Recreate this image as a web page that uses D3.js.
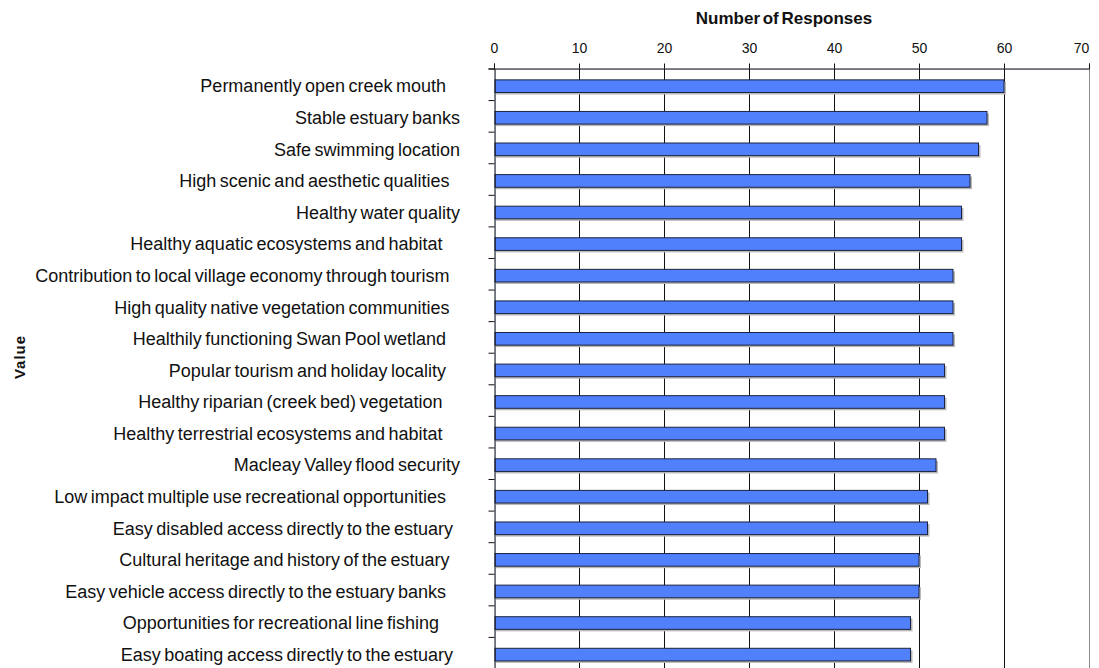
<!DOCTYPE html>
<html>
<head>
<meta charset="utf-8">
<script src="https://cdn.jsdelivr.net/npm/d3@7"></script>
<style>
  body { margin: 0; background: #fff; }
  text { font-family: "Liberation Sans", Arial, sans-serif; }
</style>
</head>
<body>
<div id="container"></div>
<script>
var width = 1099,
    height = 668;

// data, top to bottom (labels keep the trailing blanks of the source sheet)
var categories = [
    'Permanently open creek mouth    ',
    'Stable estuary banks',
    'Safe swimming location',
    'High scenic and aesthetic qualities   ',
    'Healthy water quality',
    'Healthy aquatic ecosystems and habitat     ',
    'Contribution to local village economy through tourism   ',
    'High quality native vegetation communities   ',
    'Healthily functioning Swan Pool wetland    ',
    'Popular tourism and holiday locality    ',
    'Healthy riparian (creek bed) vegetation     ',
    'Healthy terrestrial ecosystems and habitat     ',
    'Macleay Valley flood security',
    'Low impact multiple use recreational opportunities    ',
    'Easy disabled access directly to the estuary  ',
    'Cultural heritage and history of the estuary   ',
    'Easy vehicle access directly to the estuary banks    ',
    'Opportunities for recreational line fishing      ',
    'Easy boating access directly to the estuary  '
];
var responses = [60, 58, 57, 56, 55, 55, 54, 54, 54, 53, 53, 53, 52, 51, 51, 50, 50, 49, 49];
var xTicks = [0, 10, 20, 30, 40, 50, 60, 70];

var svg = d3.select('#container')
    .append('svg')
    .attr('width', width)
    .attr('height', height);

var scaleX = d3.scaleLinear()
    .domain([0, 70])
    .range([494, 1089]);
var scaleY = d3.scaleBand()
    .domain(d3.range(categories.length))
    .range([68.5, 668.5])
    .paddingInner(0.6)
    .paddingOuter(0.3)
    .align(0.6);
// boundaries between categories, for the left tick marks
var scaleEdge = d3.scaleLinear()
    .domain([0, categories.length])
    .range([68.5, 668.5]);

// plot area border (light blue)
svg.append('line')
    .attr('x1', 495.5).attr('x2', 1089)
    .attr('y1', 69.5).attr('y2', 69.5)
    .attr('stroke', '#c8d4f4');
svg.append('line')
    .attr('x1', 495.5).attr('x2', 495.5)
    .attr('y1', 69.5).attr('y2', height)
    .attr('stroke', '#c8d4f4');

// grid
svg.append('g')
    .selectAll('line')
    .data(xTicks.slice(1))
    .join('line')
    .attr('x1', function(d) { return Math.round(scaleX(d)) + 0.5; })
    .attr('x2', function(d) { return Math.round(scaleX(d)) + 0.5; })
    .attr('y1', 68.5)
    .attr('y2', height)
    .attr('stroke', function(d) { return d === 70 ? '#888' : '#111'; })
    .attr('stroke-width', 1);

// bars
var bars = svg.append('g');
bars.selectAll('rect.shadow')
    .data(responses)
    .join('rect')
    .attr('class', 'shadow')
    .attr('x', scaleX(0) + 2)
    .attr('y', function(d, i) { return scaleY(i) + 2; })
    .attr('width', function(d) { return scaleX(d) - scaleX(0); })
    .attr('height', scaleY.bandwidth())
    .attr('fill', '#b8b8b8');
bars.selectAll('rect.bar')
    .data(responses)
    .join('rect')
    .attr('class', 'bar')
    .attr('x', scaleX(0) + 1)
    .attr('y', function(d, i) { return scaleY(i); })
    .attr('width', function(d) { return scaleX(d) - scaleX(0) - 1; })
    .attr('height', scaleY.bandwidth())
    .attr('fill', '#5080fc')
    .attr('stroke', '#1c2340')
    .attr('stroke-width', 1);

// top axis
var xAxis = d3.axisTop(scaleX)
    .tickValues(xTicks)
    .tickSize(5)
    .tickPadding(11);
var gx = svg.append('g')
    .attr('transform', 'translate(0,68.5)')
    .call(xAxis);
gx.select('.domain').attr('stroke', '#111');
gx.selectAll('.tick line').attr('stroke', '#111');
gx.selectAll('.tick text')
    .attr('font-size', 14)
    .attr('fill', '#111')
    .attr('font-family', '"Liberation Sans", Arial, sans-serif');
gx.selectAll('.tick')
    .filter(function(d) { return d === 70; })
    .select('text')
    .attr('dx', -8);

// left axis (ticks between categories)
var yAxis = d3.axisLeft(scaleEdge)
    .tickValues(d3.range(categories.length + 1))
    .tickSize(6)
    .tickFormat('');
var gy = svg.append('g')
    .attr('transform', 'translate(494.5,0)')
    .call(yAxis);
gy.select('.domain').attr('stroke', '#111');
gy.selectAll('.tick line').attr('stroke', '#111');

// category labels
svg.append('g')
    .selectAll('text')
    .data(categories)
    .join('text')
    .attr('x', 460)
    .attr('y', function(d, i) { return scaleY(i) + scaleY.bandwidth() / 2; })
    .attr('dy', '0.35em')
    .attr('text-anchor', 'end')
    .attr('font-size', 18)
    .attr('word-spacing', -1.5)
    .attr('fill', '#111')
    .style('white-space', 'pre')
    .text(function(d) { return d; });

// titles
svg.append('text')
    .attr('x', 784)
    .attr('y', 24)
    .attr('text-anchor', 'middle')
    .attr('font-size', 17)
    .attr('font-weight', 'bold')
    .attr('word-spacing', -2)
    .attr('fill', '#111')
    .text('Number of Responses');

svg.append('text')
    .attr('transform', 'translate(25,357) rotate(-90)')
    .attr('text-anchor', 'middle')
    .attr('font-size', 15)
    .attr('font-weight', 'bold')
    .attr('letter-spacing', 1)
    .attr('fill', '#111')
    .text('Value');
</script>
</body>
</html>
